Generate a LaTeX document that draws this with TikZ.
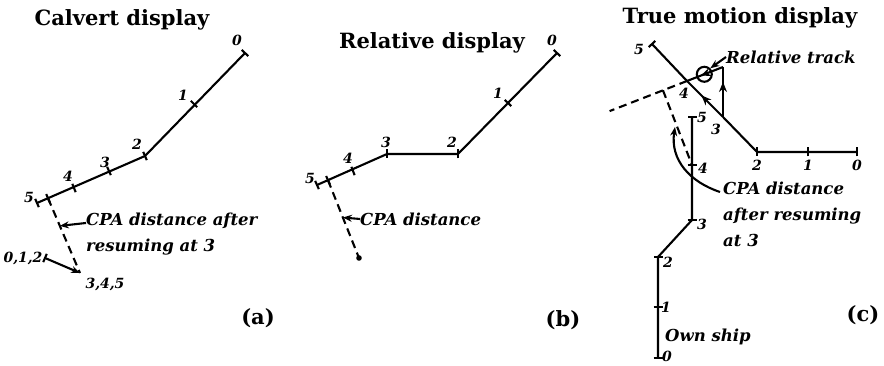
\documentclass[tikz,border=0pt]{standalone}
\usepackage{fontspec}
\setmainfont{DejaVu Serif}
\usetikzlibrary{calc,arrows.meta,decorations.markings}
\newcommand\tickat[2]{\draw[trk] ($(#1)!4.5pt!90:(#2)$) -- ($(#1)!4.5pt!-90:(#2)$);}
\begin{document}
\begin{tikzpicture}[x=1pt,y=-1pt,
  trk/.style={line width=2.1pt},
  dsh/.style={line width=2.1pt, dash pattern=on 8pt off 5pt},
  num/.style={font=\fontsize{14}{14}\selectfont\itshape\bfseries, inner sep=0pt},
  lbl/.style={font=\fontsize{16.5}{26}\selectfont\itshape\bfseries, inner sep=0pt, align=left},
  ttl/.style={font=\fontsize{21}{24}\selectfont\bfseries, inner sep=0pt},
  tip/.style={-{Stealth[length=9pt,width=7pt]}},
  midarrow/.style={postaction={decorate},decoration={markings,mark=at position #1 with {\arrow{Stealth[length=10pt,width=8pt]}}}},
]
\useasboundingbox[fill=white] (0,0) rectangle (884,366);

% ---------------- (a) Calvert display
\node[ttl] (ta) at (122,20) {Calvert display};
\coordinate (a0) at (245,53);
\coordinate (a1) at (194,104);
\coordinate (a2) at (145,156);
\coordinate (a3) at (109,171);
\coordinate (a4) at (74,188);
\coordinate (a5) at (37,203);
\draw[trk] (a0) -- (a2) -- (a5);
\tickat{a0}{a2}\tickat{a1}{a0}\tickat{a2}{a5}\tickat{a3}{a5}\tickat{a4}{a5}\tickat{a5}{a2}
\coordinate (ad) at ($(a5)!12pt!(a2)$);
\coordinate (ae) at (80,273);
\coordinate (af) at (45,258);
\tickat{ad}{a2}
\draw[dsh] (ad) -- (ae);
\draw[trk,tip] (af) -- (ae);
\tickat{af}{ae}
\node[num] (na0) at (237,40) {0};
\node[num] (na1) at (183,95) {1};
\node[num] (na2) at (137,144) {2};
\node[num] (na3) at (105,162) {3};
\node[num] (na4) at (68,176) {4};
\node[num] (na5) at (29,197) {5};
\node[num] (na012) at (23,258) {0,1,2};
\node[num] (na345) at (105,284) {3,4,5};
\node[lbl,anchor=north west] (ca) at (86,213) {CPA distance after\\resuming at 3};
\coordinate (acp) at ($(ad)!0.37!(ae)$);
\draw[trk,tip] ($(ca.north west)+(0,10)$) -- (acp);
\node[ttl] (pa) at (258,318) {(a)};

% ---------------- (b) Relative display
\node[ttl] (tb) at (432,43) {Relative display};
\coordinate (b0) at (557,53);
\coordinate (b1) at (508,103);
\coordinate (b2) at (458,154);
\coordinate (b3) at (387,154);
\coordinate (b4) at (353,171);
\coordinate (b5) at (317,185);
\draw[trk] (b0) -- (b2) -- (b3) -- (b5);
\tickat{b0}{b2}\tickat{b1}{b0}\tickat{b2}{b3}\tickat{b3}{b2}\tickat{b4}{b5}\tickat{b5}{b3}
\coordinate (bd) at ($(b5)!12pt!(b3)$);
\coordinate (be) at (359,258);
\tickat{bd}{b3}
\draw[dsh] (bd) -- (be);
\fill (be) circle (2.8pt);
\node[num] (nb0) at (552,40) {0};
\node[num] (nb1) at (498,93) {1};
\node[num] (nb2) at (452,142) {2};
\node[num] (nb3) at (386,142) {3};
\node[num] (nb4) at (348,158) {4};
\node[num] (nb5) at (310,178) {5};
\node[lbl,anchor=west] (cb) at (360,219) {CPA distance};
\coordinate (bcp) at ($(bd)!0.48!(be)$);
\draw[trk,tip] (cb.west) -- (bcp);
\node[ttl] (pb) at (563,320) {(b)};

% ---------------- (c) True motion display
\node[ttl] (tc) at (740,18) {True motion display};
\coordinate (t0) at (857,152);
\coordinate (t1) at (808,152);
\coordinate (t2) at (757,152);
\coordinate (t3) at (723,117);
\coordinate (t4) at (687,81);
\coordinate (t5) at (652,44);
\draw[trk] (t0) -- (t2) -- (t3);
\draw[trk,midarrow=0.6] (t3) -- (t4);
\draw[trk] (t4) -- (t5);
\tickat{t0}{t2}\tickat{t1}{t2}\tickat{t2}{t1}\tickat{t5}{t2}
\coordinate (tv) at (723,67);
\draw[trk,midarrow=0.7] (t3) -- (tv);
\draw[trk,midarrow=0.62] (tv) -- (t4);
\coordinate (cc) at ($(tv)!0.52!(t4)$);
\draw[trk] (cc) circle (7.5pt);
\coordinate (tl) at ($(t4)!-2.15!(tv)$);
\draw[dsh] (t4) -- (tl);
% own ship
\coordinate (o0) at (658,358);
\coordinate (o1) at (658,307);
\coordinate (o2) at (658,257);
\coordinate (o3) at (692,220);
\coordinate (o4) at (692,165);
\coordinate (o5) at (692,117);
\draw[trk] (o0) -- (o2) -- (o3) -- (o5);
\tickat{o0}{o2}\tickat{o1}{o2}\tickat{o2}{o0}\tickat{o3}{o5}\tickat{o4}{o5}\tickat{o5}{o3}
\coordinate (ft) at ($(t4)!(o4)!(tl)$);
\draw[dsh] (ft) -- (o4);
\node[num] (nt0) at (857,165) {0};
\node[num] (nt1) at (808,165) {1};
\node[num] (nt2) at (757,165) {2};
\node[num] (nt3) at (716,129) {3};
\node[num] (nt4) at (684,93) {4};
\node[num] (nt5) at (639,49) {5};
\node[num] (no0) at (667,356) {0};
\node[num] (no1) at (666,307) {1};
\node[num] (no2) at (668,262) {2};
\node[num] (no3) at (702,224) {3};
\node[num] (no4) at (703,168) {4};
\node[num] (no5) at (702,117) {5};
\node[lbl,anchor=west] (own) at (665,337) {Own ship};
\node[lbl,anchor=west] (rt) at (726,57) {Relative track};
\draw[trk,tip] (rt.west) -- ($(cc)+(6,-6)$);
\node[lbl,anchor=north west] (cc3) at (723,182) {CPA distance\\after resuming\\at 3};
\coordinate (cpe) at (675,127);
\draw[trk,tip] ($(cc3.north west)+(-3,10)$) .. controls (690,182) and (670,160) .. (cpe);
\node[ttl] (pc) at (863,315) {(c)};
\end{tikzpicture}
\end{document}
